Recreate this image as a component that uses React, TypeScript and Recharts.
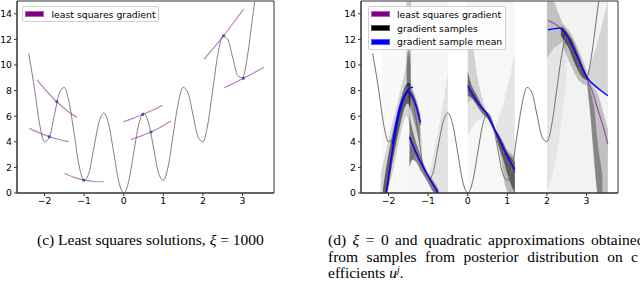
import React from 'react';
import { ComposedChart, Line, Area, Scatter, XAxis, YAxis, ReferenceArea } from 'recharts';

// axes
const xTicks = [-2, -1, 0, 1, 2, 3];
const yTicks = [0, 2, 4, 6, 8, 10, 12, 14];
const xDomain = [-2.695, 3.795];
const yDomain = [0, 15];

// gray objective curve, read at 1/8 steps
const curveX = [
  -2.4, -2.25, -2.125, -2, -1.875, -1.75, -1.625, -1.5, -1.375, -1.25, -1.125, -1, -0.875, -0.75, -0.625, -0.5,
  -0.375, -0.25, -0.125, 0, 0.125, 0.25, 0.375, 0.5, 0.625, 0.75, 0.875, 1, 1.125, 1.25, 1.375, 1.5, 1.625,
  1.75, 1.875, 2, 2.125, 2.25, 2.375, 2.5, 2.625, 2.75, 2.875, 3, 3.125, 3.25, 3.375, 3.5,
];
const curveY = [
  10.9, 8.1, 5.4, 4.0, 4.4, 6.1, 7.8, 8.25, 7.0, 4.6, 2.1, 1.0, 1.6, 3.6, 5.5, 6.25,
  5.3, 3.1, 0.9, 0.0, 0.9, 3.1, 5.3, 6.25, 5.5, 3.6, 1.6, 1.0, 2.1, 4.6, 7.0, 8.25, 7.8,
  6.1, 4.4, 4.0, 5.4, 8.1, 10.8, 12.25, 12.0, 10.6, 9.2, 9.0, 10.7, 13.6, 16.5, 18.3,
];

// (c) least squares quadratic pieces
const lsq1 = [[-2.38, 5.05], [-2.13, 4.7], [-1.88, 4.4], [-1.63, 4.18], [-1.39, 4.0]];
const lsq2 = [[-2.19, 8.83], [-1.94, 7.93], [-1.69, 7.13], [-1.44, 6.47], [-1.18, 5.9]];
const lsq3 = [[-1.5, 1.52], [-1.25, 1.22], [-1.0, 1.0], [-0.75, 0.9], [-0.5, 0.88]];
const lsq4 = [[-0.01, 5.57], [0.23, 5.83], [0.48, 6.14], [0.73, 6.47], [0.98, 6.85]];
const lsq5 = [[0.18, 4.18], [0.43, 4.44], [0.69, 4.76], [0.94, 5.16], [1.19, 5.62]];
const lsq6 = [[2.03, 10.45], [2.27, 11.33], [2.52, 12.28], [2.77, 13.3], [3.03, 14.37]];
const lsq7 = [[2.54, 8.23], [2.78, 8.57], [3.02, 8.96], [3.28, 9.38], [3.54, 9.83]];
const samplePts = [[-1.88, 4.39], [-1.69, 7.13], [-1.01, 1.0], [0.48, 6.14], [0.69, 4.76], [2.52, 12.28], [3.02, 8.96]];

// (d) gradient sample means
const meanA = [[-2.06, 0], [-1.9, 3.3], [-1.75, 5.9], [-1.6, 7.5], [-1.47, 8.2], [-1.38, 8.25]];
const meanA2 = [[-1.9, 3.8], [-1.75, 6.3], [-1.6, 7.6], [-1.5, 7.9], [-1.4, 7.6], [-1.3, 6.8], [-1.19, 5.5]];
const meanB = [[-1.47, 4.4], [-1.35, 3.5], [-1.25, 2.8], [-1.1, 1.9], [-1.0, 1.35], [-0.9, 0.8], [-0.74, 0]];
const meanC = [[0, 8.4], [0.25, 7.1], [0.48, 6.2], [0.73, 4.65], [0.95, 3.2], [1.19, 1.85]];
const meanD = [[2.03, 12.75], [2.32, 12.88], [2.53, 12.2], [2.75, 10.8], [3.0, 9.1], [3.29, 8.18], [3.54, 7.6]];
// (d) least squares
const lsqdA = [[-2.04, 0], [-1.9, 3.5], [-1.75, 6.0], [-1.6, 7.5], [-1.5, 7.8], [-1.4, 7.4], [-1.3, 6.6], [-1.19, 5.3]];
const lsqdB = [[-1.47, 4.3], [-1.25, 2.7], [-1.0, 1.3], [-0.76, 0]];
const lsqdC = [[0, 8.1], [0.25, 7.0], [0.48, 6.15], [0.73, 4.6], [0.95, 3.1], [1.2, 1.6]];
const lsqdD = [[2.03, 13.48], [2.3, 13.0], [2.52, 12.2], [2.75, 10.7], [3.0, 9.0], [3.15, 7.9], [3.29, 6.48], [3.42, 5.2], [3.54, 3.8]];

// (d) spread of the gradient samples: [x, low, high]
const washA = [[-2.17, 0, 15], [-1.45, 0, 15]];
const washB = [[-1.47, 0, 15], [-0.5, 0, 15]];
const washC = [[0, 0, 15], [1.19, 0, 15]];
const washD = [[2.0, 0, 15], [3.54, 0, 15]];
const outerA = [[-2.2, 0, 1.5], [-2.05, 0, 3.5], [-1.9, 1.5, 5.5], [-1.7, 4.5, 8.0], [-1.55, 6.0, 10.0], [-1.45, 5.0, 11.0]];
const coreA = [[-2.14, 0, 0.3], [-2.08, 0, 1.6], [-2.0, 0.6, 3.0], [-1.9, 2.4, 4.6], [-1.8, 4.0, 6.0], [-1.7, 5.4, 7.2], [-1.6, 6.6, 8.2], [-1.52, 7.0, 8.6], [-1.45, 6.5, 8.6]];
const spikeA = [[-1.55, 9.0, 15], [-1.5, 8.0, 15], [-1.43, 7.0, 15]];
const spikeA2 = [[-1.54, 8.4, 10.5], [-1.49, 7.9, 11.2], [-1.44, 7.2, 10.0]];
const fallA = [[-1.5, 7.5, 8.3], [-1.4, 6.2, 8.0], [-1.3, 5.0, 7.3], [-1.2, 3.8, 6.2]];
const upperB = [[-1.47, 2.0, 9.0], [-1.3, 3.0, 7.0], [-1.15, 2.0, 4.0]];
const coreB = [[-1.47, 2.0, 6.0], [-1.4, 2.6, 5.0], [-1.3, 2.4, 3.9], [-1.2, 1.8, 3.0], [-1.1, 1.3, 2.2], [-1.0, 0.8, 1.5], [-0.9, 0.2, 1.1], [-0.82, 0, 0.7], [-0.74, 0, 0.3]];
const fanB = [[-1.0, 1.0, 1.1], [-0.8, 0, 4.0], [-0.6, 0, 7.5], [-0.5, 0, 9.5]];
const upperC = [[0, 7.0, 15], [0.1, 7.3, 12.5], [0.2, 7.0, 10.0], [0.35, 6.5, 7.6], [0.5, 6.0, 6.3]];
const lowerC = [[0, 4.5, 7.6], [0.2, 5.5, 7.0], [0.4, 5.9, 6.2]];
const coreC = [[0, 7.6, 9.5], [0.1, 7.4, 8.4], [0.2, 7.0, 7.8], [0.3, 6.5, 7.2], [0.4, 6.1, 6.6], [0.5, 5.8, 6.3], [0.6, 5.2, 5.8], [0.7, 4.5, 5.0], [0.8, 3.5, 4.5], [0.9, 2.6, 3.9], [1.0, 1.5, 3.2], [1.1, 0.6, 2.8], [1.19, 0, 2.4]];
const tailC = [[0.7, 4.6, 4.9], [0.85, 2.5, 4.2], [0.95, 0.5, 3.6], [1.05, 0, 3.2], [1.19, 0, 2.8]];
const sideC = [[0.7, 4.7, 5.2], [0.9, 3.8, 7.0], [1.19, 2.5, 11.0]];
const upperD = [[2.0, 10.5, 15], [2.15, 11.2, 15], [2.3, 11.6, 14.0], [2.45, 12.0, 12.8]];
const lowerD = [[2.0, 0, 10.5], [2.25, 3.0, 11.5], [2.5, 9.0, 12.2]];
const outerD = [[2.4, 11.5, 13.2], [2.6, 10.0, 12.5], [2.8, 8.8, 11.2], [3.0, 8.4, 9.6]];
const coreD = [[2.35, 12.3, 13.0], [2.45, 11.8, 12.8], [2.55, 11.3, 12.4], [2.65, 10.5, 11.9], [2.75, 9.8, 11.2], [2.85, 9.2, 10.4], [2.95, 8.9, 9.6], [3.02, 8.8, 9.2]];
const lowD = [[3.0, 8.6, 9.1], [3.1, 6.0, 8.6], [3.2, 2.0, 8.2], [3.3, 0, 7.6], [3.45, 0, 6.0], [3.54, 0, 5.0]];
const lowD2 = [[3.02, 8.5, 9.0], [3.1, 6.0, 8.0], [3.2, 2.5, 6.5], [3.28, 0, 4.0], [3.4, 0, 1.5]];
const highD = [[3.0, 9.0, 9.3], [3.2, 8.3, 11.0], [3.54, 7.6, 15]];

const pts = (a: number[][]) => a.map(([x, y]) => ({ x, y }));
const band = (a: number[][]) => a.map(([x, lo, hi]) => ({ x, r: [lo, hi] }));
const curve = curveX.map((x, i) => ({ x, y: curveY[i] }));

const tickFont = { fontFamily: 'DejaVu Sans', fontSize: 9.3, fill: '#000' };
const fmt = (v: number) => (v < 0 ? '\u2212' + Math.abs(v) : String(v));
const LSQ = 'rgba(128,0,128,0.5)';

function Axes({ yw }: { yw: number }) {
  return [
    <XAxis key="x" dataKey="x" type="number" domain={xDomain} ticks={xTicks} allowDataOverflow
      tickFormatter={fmt} tick={tickFont} tickSize={3} tickMargin={1} height={17}
      axisLine={{ stroke: '#333' }} tickLine={{ stroke: '#333' }} />,
    <YAxis key="y" type="number" domain={yDomain} ticks={yTicks} allowDataOverflow
      tick={tickFont} tickSize={3} tickMargin={2} width={yw}
      axisLine={{ stroke: '#333' }} tickLine={{ stroke: '#333' }} />,
  ];
}

function Frame() {
  return <ReferenceArea x1={xDomain[0]} x2={xDomain[1]} y1={0} y2={15} fill="none" stroke="#333" strokeWidth={1} />;
}

function Wash({ d, o }: { d: number[][]; o: number }) {
  return <Area data={band(d)} dataKey="r" type="monotone" stroke="none" fill="#000" fillOpacity={o} isAnimationActive={false} />;
}

function Seg({ d, c, w }: { d: number[][]; c: string; w: number }) {
  return <Line data={pts(d)} dataKey="y" type="monotone" stroke={c} strokeWidth={w} dot={false} isAnimationActive={false} />;
}

const swatch = (bg: string, bd: string) => ({
  position: 'absolute' as const, width: 19, height: 6, background: bg, border: `1px solid ${bd}`, boxSizing: 'border-box' as const,
});
const legText = { position: 'absolute' as const, fontFamily: 'DejaVu Sans', fontSize: 9.3, lineHeight: '11px', whiteSpace: 'nowrap' as const };

export default function App() {
  const serif = { fontFamily: 'Liberation Serif', fontSize: 15.5, lineHeight: '16.5px', whiteSpace: 'nowrap' as const, position: 'absolute' as const };
  return (
    <div style={{ position: 'absolute', left: 0, top: 0, width: 640, height: 282, background: '#fff', overflow: 'hidden' }}>
      <div style={{ position: 'absolute', left: 0, top: 0 }}>
        <ComposedChart width={279} height={210} margin={{ top: 1, right: 5, left: 0, bottom: 0 }}>
          {Axes({ yw: 17 })}
          <Line data={curve} dataKey="y" type="monotone" stroke="#808080" strokeWidth={1} dot={false} isAnimationActive={false} />
          {[lsq1, lsq2, lsq3, lsq4, lsq5, lsq6, lsq7].map((s, i) => (
            <Line key={i} data={pts(s)} dataKey="y" type="monotone" stroke={LSQ} strokeWidth={1.2} dot={false} isAnimationActive={false} />
          ))}
          <Scatter data={pts(samplePts)} dataKey="y" fill="#3a4fb0" shape={(p: any) => <rect x={p.cx - 1.3} y={p.cy - 1.3} width={2.6} height={2.6} fill="#3a4fb0" />} isAnimationActive={false} />
          {Frame()}
        </ComposedChart>
      </div>
      <div style={{ position: 'absolute', left: 22, top: 6, width: 137, height: 16, border: '1px solid #d0d0d0', borderRadius: 2, background: 'rgba(255,255,255,0.85)', boxSizing: 'border-box' }} />
      <div style={{ ...swatch('#800080', '#b060b0'), left: 25, top: 11 }} />
      <div style={{ ...legText, left: 51.5, top: 8.5 }}>least squares gradient</div>

      <div style={{ position: 'absolute', left: 343, top: 0 }}>
        <ComposedChart width={280} height={210} margin={{ top: 1, right: 5, left: 0, bottom: 0 }}>
          {Axes({ yw: 18 })}
          {Wash({ d: washA, o: 0.025 })}
          {Wash({ d: washB, o: 0.035 })}
          {Wash({ d: washC, o: 0.03 })}
          {Wash({ d: washD, o: 0.05 })}
          {Wash({ d: outerA, o: 0.15 })}
          {Wash({ d: coreA, o: 0.55 })}
          {Wash({ d: spikeA, o: 0.18 })}
          {Wash({ d: spikeA2, o: 0.3 })}
          {Wash({ d: fallA, o: 0.35 })}
          {Wash({ d: upperB, o: 0.12 })}
          {Wash({ d: coreB, o: 0.45 })}
          {Wash({ d: fanB, o: 0.08 })}
          {Wash({ d: upperC, o: 0.15 })}
          {Wash({ d: lowerC, o: 0.08 })}
          {Wash({ d: coreC, o: 0.5 })}
          {Wash({ d: tailC, o: 0.25 })}
          {Wash({ d: sideC, o: 0.07 })}
          {Wash({ d: upperD, o: 0.2 })}
          {Wash({ d: lowerD, o: 0.05 })}
          {Wash({ d: outerD, o: 0.2 })}
          {Wash({ d: coreD, o: 0.55 })}
          {Wash({ d: lowD, o: 0.2 })}
          {Wash({ d: lowD2, o: 0.3 })}
          {Wash({ d: highD, o: 0.12 })}
          <Line data={curve} dataKey="y" type="monotone" stroke="#707070" strokeWidth={1} dot={false} isAnimationActive={false} />
          {Seg({ d: lsqdA, c: 'rgba(128,0,128,0.6)', w: 1.2 })}
          {Seg({ d: lsqdB, c: 'rgba(128,0,128,0.6)', w: 1.2 })}
          {Seg({ d: lsqdC, c: 'rgba(128,0,128,0.6)', w: 1.2 })}
          {Seg({ d: lsqdD, c: 'rgba(128,0,128,0.6)', w: 1.2 })}
          {Seg({ d: meanA, c: '#0000ff', w: 1.4 })}
          {Seg({ d: meanA2, c: '#0000ff', w: 1.4 })}
          {Seg({ d: meanB, c: '#0000ff', w: 1.4 })}
          {Seg({ d: meanC, c: '#0000ff', w: 1.4 })}
          {Seg({ d: meanD, c: '#0000ff', w: 1.4 })}
          {Frame()}
        </ComposedChart>
      </div>
      <div style={{ position: 'absolute', left: 368, top: 6, width: 138, height: 44, border: '1px solid #d0d0d0', borderRadius: 2, background: 'rgba(255,255,255,0.85)', boxSizing: 'border-box' }} />
      <div style={{ ...swatch('#800080', '#b060b0'), left: 370.5, top: 11 }} />
      <div style={{ ...legText, left: 397, top: 8.5 }}>least squares gradient</div>
      <div style={{ ...swatch('#000', '#555'), left: 370.5, top: 25 }} />
      <div style={{ ...legText, left: 397, top: 22.5 }}>gradient samples</div>
      <div style={{ ...swatch('#0000ff', '#5a5aff'), left: 370.5, top: 38.5 }} />
      <div style={{ ...legText, left: 397, top: 36 }}>gradient sample mean</div>

      <div style={{ ...serif, left: 37, top: 232 }}>(c) Least squares solutions, <i>ξ</i> = 1000</div>
      <div style={{ ...serif, left: 328, top: 232, wordSpacing: 2.6 }}>(d) <i>ξ</i> = 0 and quadratic approximations obtained</div>
      <div style={{ ...serif, left: 328, top: 249, width: 310, textAlign: 'justify', textAlignLast: 'justify' }}>from samples from posterior distribution on c</div>
      <div style={{ ...serif, left: 328, top: 265 }}>efficients <i>u</i><sup style={{ fontSize: 10, verticalAlign: 'top', lineHeight: '10px' }}><i>j</i></sup>.</div>
    </div>
  );
}
